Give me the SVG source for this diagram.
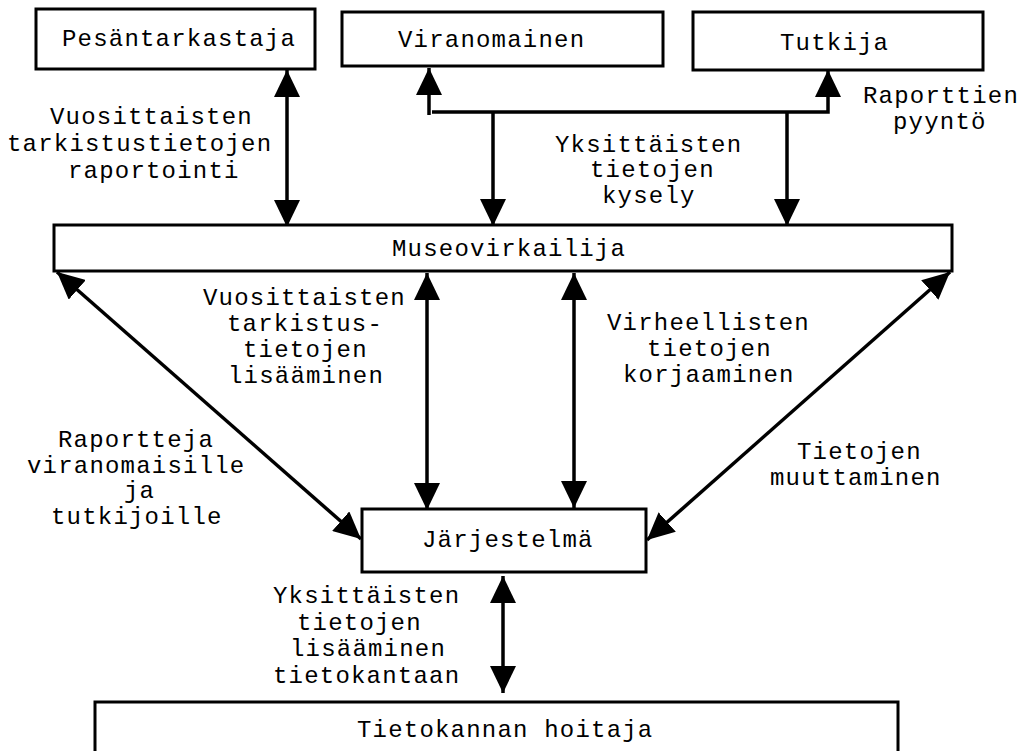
<svg xmlns="http://www.w3.org/2000/svg" width="1020" height="751" viewBox="0 0 1020 751">
  <style>
    .box { fill: #fff; stroke: #000; stroke-width: 3; }
    .t { font-family: "Liberation Mono", "Courier New", monospace; font-size: 24px; letter-spacing: 1.2px; fill: #000; }
    .c { fill: none; stroke: #000; stroke-width: 3.5; }
    .a2 { marker-start: url(#head); marker-end: url(#head); }
    .a1 { marker-end: url(#head); }
  </style>
  <defs>
    <marker id="head" viewBox="0 0 27 26" refX="27" refY="13" markerWidth="27" markerHeight="26" markerUnits="userSpaceOnUse" orient="auto-start-reverse">
      <path d="M0,0 L27,13 L0,26 z" fill="#000"/>
    </marker>
  </defs>
  <rect width="1020" height="751" fill="#fff"/>

  <!-- connectors -->
  <g id="connectors">
    <!-- Pesäntarkastaja <-> Museovirkailija -->
    <line class="c a2" x1="287" y1="70" x2="287" y2="227"/>
    <!-- report request branch to Viranomainen and Tutkija -->
    <line class="c a1" x1="429" y1="115" x2="429" y2="68"/>
    <polyline class="c a1" points="432,112 828,112 828,70"/>
    <line class="c a1" x1="493" y1="112" x2="493" y2="226"/>
    <line class="c a1" x1="787" y1="112" x2="787" y2="226"/>
    <!-- Museovirkailija <-> Järjestelmä -->
    <line class="c a2" x1="57" y1="272" x2="361" y2="539"/>
    <line class="c a2" x1="427" y1="273" x2="427" y2="510"/>
    <line class="c a2" x1="574" y1="273" x2="574" y2="508"/>
    <line class="c a2" x1="950" y1="272" x2="647" y2="540"/>
    <!-- Järjestelmä <-> Tietokannan hoitaja -->
    <line class="c a2" x1="503" y1="576" x2="503" y2="693"/>
  </g>

  <g id="pesantarkastaja">
    <rect class="box" x="36" y="9" width="279" height="60"/>
    <text class="t" x="62" y="46">Pesäntarkastaja</text>
  </g>
  <g id="viranomainen">
    <rect class="box" x="342" y="12" width="321" height="54"/>
    <text class="t" x="398" y="47">Viranomainen</text>
  </g>
  <g id="tutkija">
    <rect class="box" x="693" y="12" width="290" height="58"/>
    <text class="t" x="780" y="50">Tutkija</text>
  </g>
  <g id="museovirkailija">
    <rect class="box" x="54" y="225" width="898" height="46"/>
    <text class="t" x="392" y="256">Museovirkailija</text>
  </g>
  <g id="jarjestelma">
    <rect class="box" x="362" y="509" width="284" height="63"/>
    <text class="t" x="422" y="547">Järjestelmä</text>
  </g>
  <g id="tietokannan-hoitaja">
    <rect class="box" x="95" y="702" width="803" height="60"/>
    <text class="t" x="357" y="737">Tietokannan hoitaja</text>
  </g>

  <g id="labels">
    <text class="t" x="50" y="124">Vuosittaisten</text>
    <text class="t" x="7" y="151">tarkistustietojen</text>
    <text class="t" x="68" y="178">raportointi</text>

    <text class="t" x="863" y="103">Raporttien</text>
    <text class="t" x="893" y="129">pyyntö</text>

    <text class="t" x="555" y="152">Yksittäisten</text>
    <text class="t" x="590" y="177">tietojen</text>
    <text class="t" x="602" y="203">kysely</text>

    <text class="t" x="203" y="305">Vuosittaisten</text>
    <text class="t" x="227" y="331">tarkistus-</text>
    <text class="t" x="243" y="357">tietojen</text>
    <text class="t" x="228" y="383">lisääminen</text>

    <text class="t" x="607" y="330">Virheellisten</text>
    <text class="t" x="647" y="356">tietojen</text>
    <text class="t" x="623" y="382">korjaaminen</text>

    <text class="t" x="58" y="447">Raportteja</text>
    <text class="t" x="27" y="473">viranomaisille</text>
    <text class="t" x="124" y="498">ja</text>
    <text class="t" x="51" y="524">tutkijoille</text>

    <text class="t" x="797" y="459">Tietojen</text>
    <text class="t" x="770" y="485">muuttaminen</text>

    <text class="t" x="273" y="603">Yksittäisten</text>
    <text class="t" x="297" y="630">tietojen</text>
    <text class="t" x="290" y="656">lisääminen</text>
    <text class="t" x="273" y="683">tietokantaan</text>
  </g>
</svg>
